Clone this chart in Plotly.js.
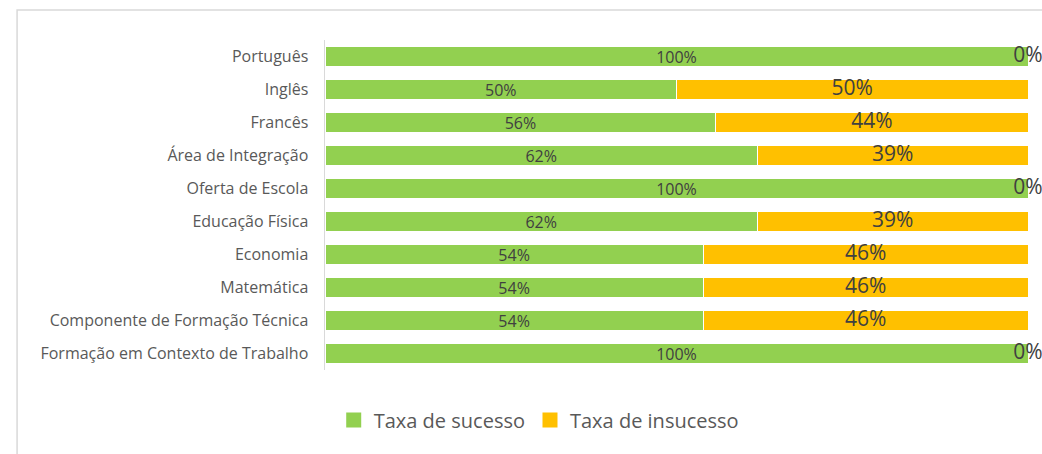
<!DOCTYPE html>
<html>
<head>
<meta charset="utf-8">
<script src="https://cdn.plot.ly/plotly-3.0.1.min.js"></script>
<style>
html,body{margin:0;padding:0;background:#fff;}
#chart{width:1042px;height:454px;}
</style>
</head>
<body>
<div id="chart"></div>
<script>
const categories = [
  "Português",
  "Inglês",
  "Francês",
  "Área de Integração",
  "Oferta de Escola",
  "Educação Física",
  "Economia",
  "Matemática",
  "Componente de Formação Técnica",
  "Formação em Contexto de Trabalho"
];
const taxaSucesso = [100, 50, 55.6, 61.5, 100, 61.5, 53.8, 53.8, 53.8, 100];
const taxaInsucesso = [0, 50, 44.4, 38.5, 0, 38.5, 46.2, 46.2, 46.2, 0];
const seriesNames = ["Taxa de sucesso", "Taxa de insucesso"];
const seriesColors = ["#92D050", "#FFC000"];

const pct = v => Math.round(v) + "%";
const labelFont = "'Open Sans', 'Noto Sans', sans-serif";

const traces = [
  {
    type: "bar",
    orientation: "h",
    name: seriesNames[0],
    y: categories,
    x: taxaSucesso,
    marker: {color: seriesColors[0], line: {color: "#ffffff", width: 1}},
    text: taxaSucesso.map(pct),
    textposition: "inside",
    insidetextanchor: "middle",
    textangle: 0,
    constraintext: "none",
    textfont: {family: labelFont, size: 16, color: "#404040"},
    showlegend: false,
    hoverinfo: "skip"
  },
  {
    type: "bar",
    orientation: "h",
    name: seriesNames[1],
    y: categories,
    x: taxaInsucesso,
    marker: {color: seriesColors[1], line: {color: "#ffffff", width: 1}},
    showlegend: false,
    hoverinfo: "skip"
  },
  {
    type: "scatter",
    mode: "text",
    y: categories,
    x: taxaSucesso.map((s, i) => s + taxaInsucesso[i] / 2),
    text: taxaInsucesso.map(pct),
    textposition: "middle center",
    textfont: {family: labelFont, size: 21, color: "#404040"},
    cliponaxis: false,
    showlegend: false,
    hoverinfo: "skip"
  },
  {
    type: "scatter",
    mode: "markers",
    name: seriesNames[0],
    x: [null],
    y: [null],
    marker: {symbol: "square", size: 15, color: seriesColors[0]},
    hoverinfo: "skip"
  },
  {
    type: "scatter",
    mode: "markers",
    name: seriesNames[1],
    x: [null],
    y: [null],
    marker: {symbol: "square", size: 15, color: seriesColors[1]},
    hoverinfo: "skip"
  }
];

const layout = {
  width: 1042,
  height: 454,
  margin: {l: 325, r: 14, t: 40, b: 84},
  barmode: "stack",
  bargap: 0.42,
  paper_bgcolor: "#ffffff",
  plot_bgcolor: "#ffffff",
  font: {family: labelFont, color: "#595959"},
  xaxis: {
    range: [0, 100],
    showgrid: false,
    zeroline: false,
    showticklabels: false,
    showline: false,
    fixedrange: true
  },
  yaxis: {
    type: "category",
    autorange: "reversed",
    showgrid: false,
    zeroline: false,
    showline: true,
    linecolor: "#d9d9d9",
    linewidth: 1.5,
    ticks: "",
    ticklabelstandoff: 12,
    tickfont: {family: labelFont, size: 16, color: "#595959"},
    fixedrange: true
  },
  legend: {
    orientation: "h",
    xref: "container",
    yref: "container",
    x: 0.517,
    xanchor: "center",
    y: 0.075,
    yanchor: "middle",
    font: {family: labelFont, size: 20, color: "#595959"},
    itemwidth: 30,
    traceorder: "normal"
  },
  shapes: [
    {
      type: "rect",
      xref: "paper",
      yref: "paper",
      x0: -0.438, x1: 1.03,
      y0: -0.3, y1: 1.0909,
      line: {color: "#d9d9d9", width: 1.5},
      fillcolor: "rgba(0,0,0,0)",
      layer: "below"
    }
  ],
  showlegend: true
};

Plotly.newPlot("chart", traces, layout, {displayModeBar: false, staticPlot: true});
</script>
</body>
</html>
